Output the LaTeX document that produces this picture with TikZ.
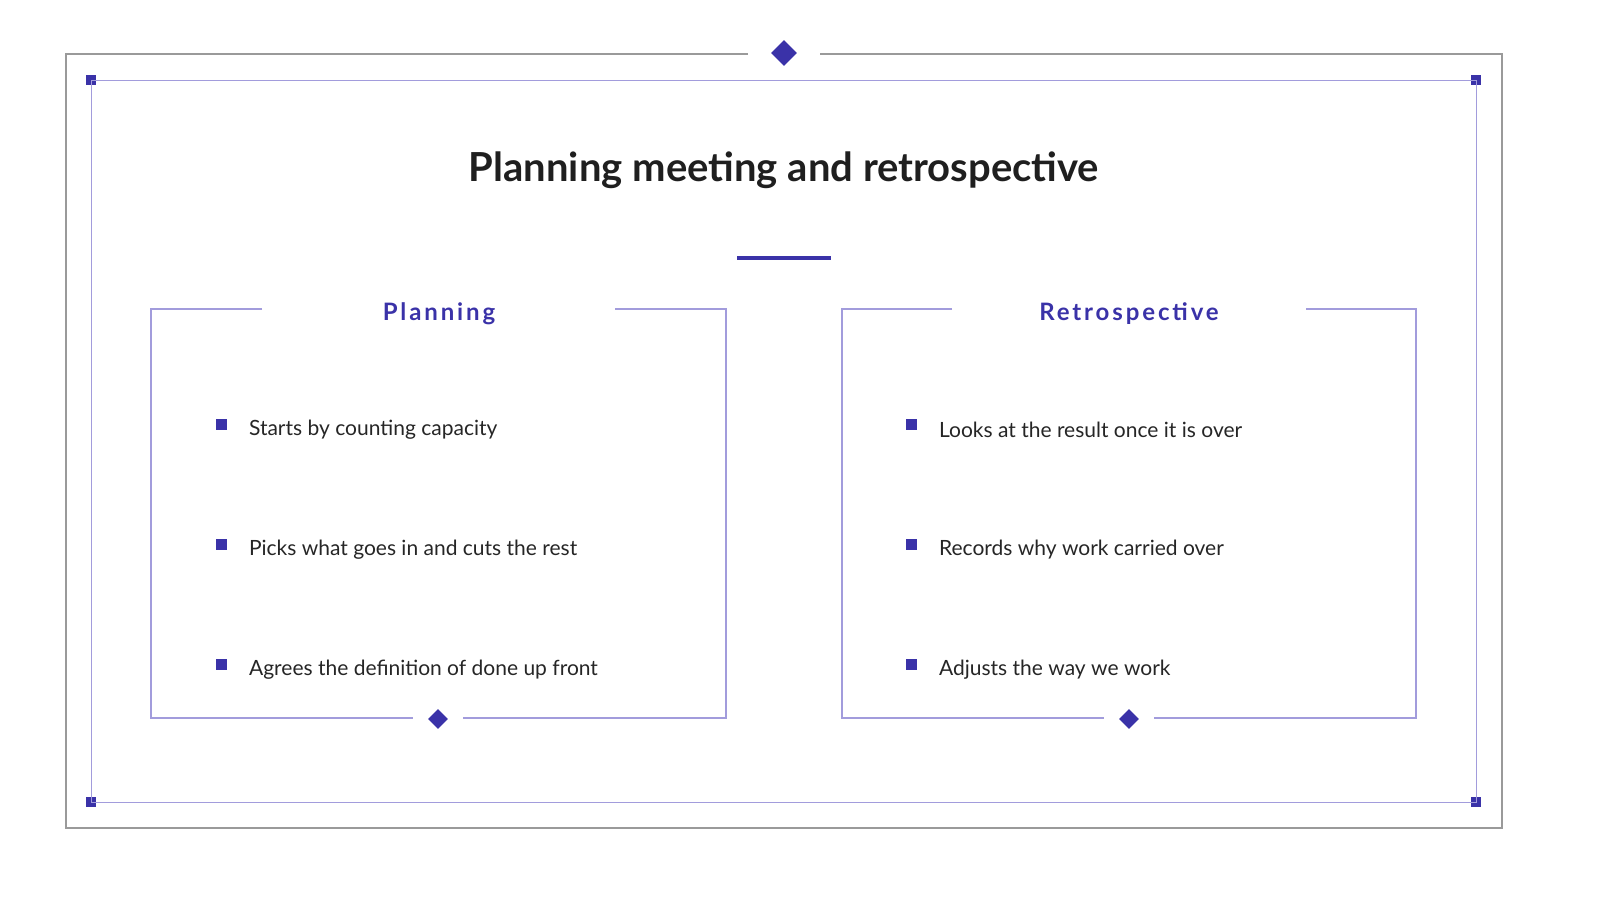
\documentclass[tikz,border=0pt]{standalone}
\usepackage{fontspec}
\setmainfont{Lato}
\newfontfamily\headfont[LetterSpace=12]{Lato}
\usetikzlibrary{shapes.geometric}
\definecolor{ink}{HTML}{3A32A8}
\definecolor{pale}{HTML}{A29CDC}
\definecolor{frame}{HTML}{9A9A9A}
\tikzset{
  gem/.style={diamond,fill=ink,inner sep=0pt,minimum size=#1},
  dot/.style={rectangle,fill=ink,inner sep=0pt,minimum size=#1},
  panel/.style={pale,line width=0.8pt},
  item/.style={anchor=west,font=\fontsize{10.5}{12}\selectfont,text=black!85},
  head/.style={font=\headfont\bfseries\fontsize{12}{14}\selectfont,text=ink}
}
\begin{document}
\begin{tikzpicture}[x=0.5pt,y=-0.5pt]
  \useasboundingbox (0,0) rectangle (1598,900);

  % outer frame with a gap for the top diamond
  \node[gem=13pt] (top) at (784,53) {};
  \coordinate (tl) at (748,54);
  \coordinate (tr) at (820,54);
  \draw[frame,line width=0.9pt] (tl) -- (66,54) -- (66,828) -- (1502,828) -- (1502,54) -- (tr);

  % inner frame with corner marks
  \node[dot=5pt] (c1) at (91,80) {};
  \node[dot=5pt] (c2) at (1476,80) {};
  \node[dot=5pt] (c3) at (1476,802) {};
  \node[dot=5pt] (c4) at (91,802) {};
  \draw[pale,line width=0.5pt] (c1.center) -- (c2.center) -- (c3.center) -- (c4.center) -- cycle;

  % title
  \node[font=\bfseries\fontsize{20}{22}\selectfont,text=black!88] (title) at (784,170) {Planning meeting and retrospective};
  \coordinate (ul) at (737,258);
  \coordinate (ur) at (831,258);
  \draw[ink,line width=1.6pt] (ul) -- (ur);

  % Planning panel
  \node[head] (plan) at (439,314) {Planning};
  \node[gem=10pt] (pgem) at (438,719) {};
  \draw[panel] (262,309) -- (151,309) -- (151,718) -- (413,718);
  \draw[panel] (615,309) -- (726,309) -- (726,718) -- (463,718);
  \foreach \y/\t [count=\i] in {430/Starts by counting capacity,
      550/Picks what goes in and cuts the rest,
      670/Agrees the definition of done up front}{
    \node[dot=5.5pt] (pb\i) at (221,\y-6) {};
    \node[item] (pt\i) at (242,\y) {\t};
  }

  % Retrospective panel
  \node[head] (retro) at (1129,314) {Retrospective};
  \node[gem=10pt] (rgem) at (1129,719) {};
  \draw[panel] (952,309) -- (842,309) -- (842,718) -- (1104,718);
  \draw[panel] (1306,309) -- (1416,309) -- (1416,718) -- (1154,718);
  \foreach \y/\t [count=\i] in {430/Looks at the result once it is over,
      550/Records why work carried over,
      670/Adjusts the way we work}{
    \node[dot=5.5pt] (rb\i) at (911,\y-6) {};
    \node[item] (rt\i) at (932,\y) {\t};
  }
\end{tikzpicture}
\end{document}
